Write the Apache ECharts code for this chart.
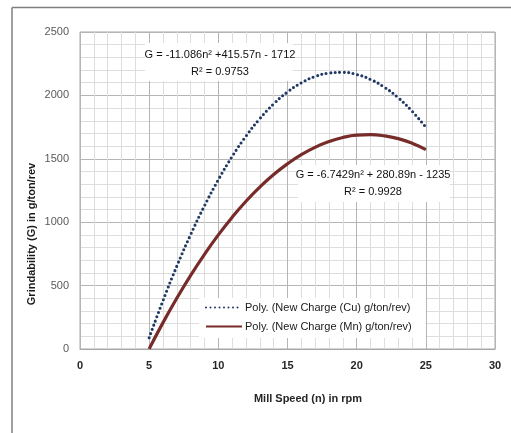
<!DOCTYPE html>
<html>
<head>
<meta charset="utf-8">
<script src="https://cdn.jsdelivr.net/npm/echarts@6/dist/echarts.min.js"></script>
<style>
  html, body { margin: 0; padding: 0; background: #fff; }
  #main { width: 511px; height: 433px; }
</style>
</head>
<body>
<div id="main"></div>
<script>
// mill speed (rpm) and trendline values
var speed = [5, 6, 7, 8, 9, 10, 11, 12, 13, 14, 15, 16, 17, 18, 19, 20, 21, 22, 23, 24, 25];
var cuValues = [89, 382, 654, 903, 1130, 1335, 1518, 1679, 1817, 1933, 2027, 2099, 2149, 2176, 2182, 2165, 2126, 2065, 1982, 1876, 1749];
var mnValues = [1, 208, 401, 581, 747, 900, 1039, 1165, 1277, 1376, 1461, 1533, 1591, 1636, 1668, 1686, 1690, 1681, 1659, 1623, 1573];
var seriesNames = ['Poly. (New Charge (Cu) g/ton/rev)', 'Poly. (New Charge (Mn) g/ton/rev)'];
var eqCu = ['G = -11.086n² +415.57n - 1712', 'R² = 0.9753'];
var eqMn = ['G = -6.7429n² + 280.89n - 1235', 'R² = 0.9928'];

var FONT = '"Liberation Sans", Arial, sans-serif';

function pairs(xs, ys) {
  return xs.map(function (x, i) { return [x, ys[i]]; });
}

var myChart = echarts.init(document.getElementById('main'));

var option = {
  animation: false,
  textStyle: { fontFamily: FONT },
  grid: {
    left: 80, right: 16, top: 32, bottom: 84,
    show: true, borderColor: '#a6a6a6', borderWidth: 1
  },
  xAxis: {
    type: 'value', min: 0, max: 30, interval: 5,
    axisLine: { lineStyle: { color: '#a6a6a6' } },
    axisTick: { show: false },
    axisLabel: { color: '#262626', fontSize: 11, fontWeight: 'bold', margin: 11, fontFamily: FONT },
    splitLine: { show: true, lineStyle: { color: '#b5b5b5' } },
    minorSplitLine: { show: true, lineStyle: { color: '#dddddd' } },
    minorTick: { show: false, splitNumber: 5 }
  },
  yAxis: {
    type: 'value', min: 0, max: 2500, interval: 500,
    axisLine: { show: false },
    axisTick: { show: false },
    axisLabel: { color: '#595959', fontSize: 11, margin: 11, fontFamily: FONT,
      formatter: function (v) { return String(v); } },
    splitLine: { show: true, lineStyle: { color: '#b5b5b5' } },
    minorSplitLine: { show: true, lineStyle: { color: '#dddddd' } },
    minorTick: { show: false, splitNumber: 5 }
  },
  legend: {
    orient: 'vertical',
    left: 199, top: 298,
    itemWidth: 36, itemHeight: 10, itemGap: 8,
    padding: [4, 14, 6, 6],
    backgroundColor: '#fff',
    itemStyle: { opacity: 0 },
    textStyle: { color: '#1a1a1a', fontSize: 11, fontFamily: FONT, padding: [0, 0, 0, -2] },
    data: seriesNames
  },
  series: [
    {
      name: seriesNames[0], type: 'line', smooth: true,
      symbol: 'none', data: pairs(speed, cuValues),
      lineStyle: { color: '#203864', width: 3.1, type: [0, 4.5], cap: 'round' },
      itemStyle: { color: '#203864' }
    },
    {
      name: seriesNames[1], type: 'line', smooth: true,
      symbol: 'none', data: pairs(speed, mnValues),
      lineStyle: { color: '#772c2a', width: 3.2 },
      itemStyle: { color: '#772c2a' }
    }
  ],
  graphic: [
    // outer frame (top and left edges visible)
    { type: 'line', shape: { x1: 12, y1: 7.5, x2: 511, y2: 7.5 }, style: { stroke: '#7f7f7f', lineWidth: 1.5 } },
    { type: 'line', shape: { x1: 12, y1: 7.5, x2: 12, y2: 433 }, style: { stroke: '#7f7f7f', lineWidth: 1.5 } },
    // equation boxes
    { type: 'rect', shape: { x: 145, y: 43, width: 148, height: 38 }, style: { fill: '#fff' }, z: 10 },
    { type: 'text', x: 220, y: 55, z: 11, style: { text: eqCu[0], fill: '#111', font: '11px ' + FONT, align: 'center', verticalAlign: 'middle' } },
    { type: 'text', x: 220, y: 72, z: 11, style: { text: eqCu[1], fill: '#111', font: '11px ' + FONT, align: 'center', verticalAlign: 'middle' } },
    { type: 'rect', shape: { x: 298, y: 165, width: 152, height: 37 }, style: { fill: '#fff' }, z: 10 },
    { type: 'text', x: 373, y: 175, z: 11, style: { text: eqMn[0], fill: '#111', font: '11px ' + FONT, align: 'center', verticalAlign: 'middle' } },
    { type: 'text', x: 373, y: 192, z: 11, style: { text: eqMn[1], fill: '#111', font: '11px ' + FONT, align: 'center', verticalAlign: 'middle' } },
    // axis titles
    { type: 'text', x: 308, y: 399, style: { text: 'Mill Speed (n) in rpm', fill: '#262626', font: 'bold 11px ' + FONT, align: 'center', verticalAlign: 'middle' } },
    { type: 'text', x: 32, y: 234, rotation: Math.PI / 2, style: { text: 'Grindability (G) in g/ton/rev', fill: '#1a1a1a', font: 'bold 11px ' + FONT, align: 'center', verticalAlign: 'middle' } }
  ]
};

myChart.setOption(option);
</script>
</body>
</html>
